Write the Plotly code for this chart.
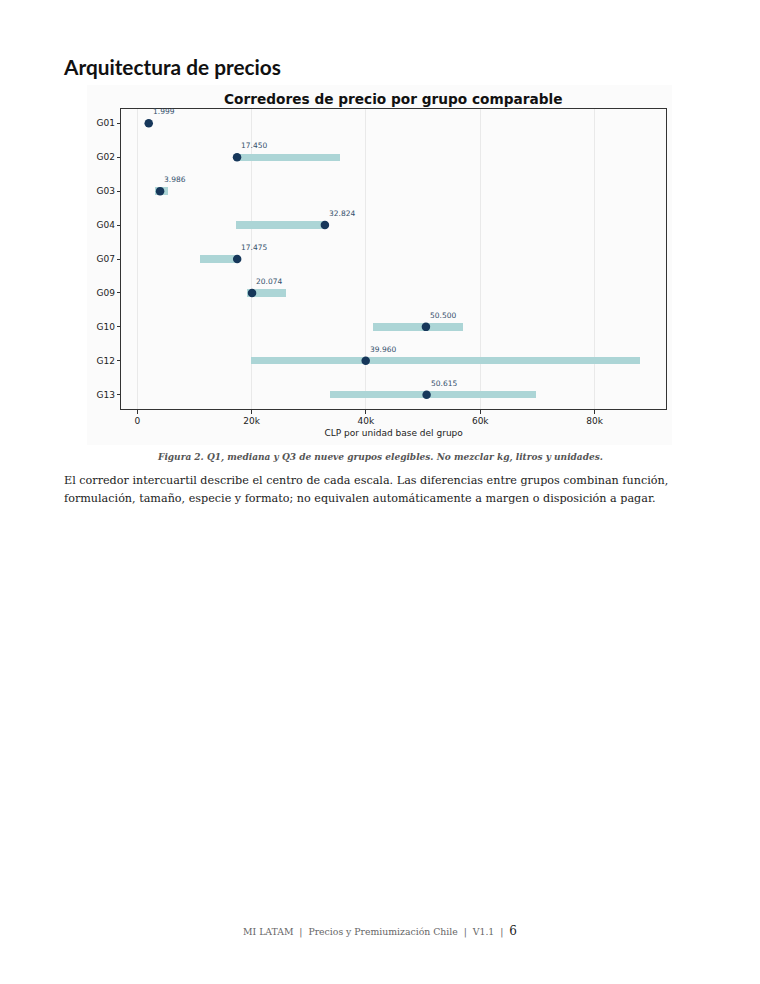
import plotly.graph_objects as go

groups = ["G01", "G02", "G03", "G04", "G07", "G09", "G10", "G12", "G13"]
q1 = [1550, 17450, 3150, 17400, 11100, 19300, 41300, 20000, 33850]
median = [1999, 17450, 3986, 32824, 17475, 20074, 50500, 39960, 50615]
q3 = [2450, 35600, 5450, 32900, 17500, 26000, 57000, 88000, 69840]
median_labels = ["1.999", "17.450", "3.986", "32.824", "17.475", "20.074", "50.500", "39.960", "50.615"]
x_tickvals = [0, 20000, 40000, 60000, 80000]
x_ticktext = ["0", "20k", "40k", "60k", "80k"]

W, H = 760, 984
OFF = 8  # page body margin
def px(x): return (x - OFF) / W
def py(y): return 1 - (y - OFF) / H

BAR = "#acd5d6"
DOT = "#16375a"
CHART_FONT = "DejaVu Sans"
SERIF = "DejaVu Serif"

fig = go.Figure()
fig.add_trace(go.Bar(
    y=groups, x=[b - a for a, b in zip(q1, q3)], base=q1, orientation="h",
    width=0.215, marker=dict(color=BAR, line=dict(width=0)), hoverinfo="skip",
    showlegend=False,
))
fig.add_trace(go.Scatter(
    y=groups, x=median, mode="markers",
    marker=dict(color=DOT, size=8.5, line=dict(width=0)), showlegend=False,
))

for g, m, lab in zip(groups, median, median_labels):
    fig.add_annotation(x=m, y=g, xref="x", yref="y", text=lab, showarrow=False,
                       xanchor="left", yanchor="middle", xshift=2, yshift=11.5,
                       font=dict(family=CHART_FONT, size=7.5, color="#34506c"))

# figure background panel
fig.add_shape(type="rect", xref="paper", yref="paper", x0=px(87), x1=px(672),
              y0=py(445), y1=py(85), fillcolor="#fbfbfb", line=dict(width=0), layer="below")

# page texts
fig.add_annotation(xref="paper", yref="paper", x=px(61), y=py(66), text="<b>Arquitectura de precios</b>",
                   showarrow=False, xanchor="left", yanchor="middle",
                   font=dict(family="Lato", size=20.8, color="#111111"))
fig.add_annotation(xref="paper", yref="paper", x=px(393.5), y=py(99),
                   text="<b>Corredores de precio por grupo comparable</b>",
                   showarrow=False, xanchor="center", yanchor="middle",
                   font=dict(family=CHART_FONT, size=13.7, color="#111111"))
fig.add_annotation(xref="paper", yref="paper", x=px(380), y=py(457),
                   text="<i><b>Figura 2. Q1, mediana y Q3 de nueve grupos elegibles. No mezclar kg, litros y unidades.</b></i>",
                   showarrow=False, xanchor="center", yanchor="middle",
                   font=dict(family=SERIF, size=9, color="#555555"))
fig.add_annotation(xref="paper", yref="paper", x=px(62), y=py(480),
                   text="El corredor intercuartil describe el centro de cada escala. Las diferencias entre grupos combinan función,",
                   showarrow=False, xanchor="left", yanchor="middle",
                   font=dict(family=SERIF, size=11.2, color="#222222"))
fig.add_annotation(xref="paper", yref="paper", x=px(62), y=py(498),
                   text="formulación, tamaño, especie y formato; no equivalen automáticamente a margen o disposición a pagar.",
                   showarrow=False, xanchor="left", yanchor="middle",
                   font=dict(family=SERIF, size=11.2, color="#222222"))
fig.add_annotation(xref="paper", yref="paper", x=px(380), y=py(931),
                   text="MI LATAM  |  Precios y Premiumización Chile  |  V1.1  |  <span style='font-size:12px;color:#222'>6</span>",
                   showarrow=False, xanchor="center", yanchor="middle",
                   font=dict(family=SERIF, size=9.3, color="#666666"))

fig.update_layout(
    width=W, height=H, margin=dict(l=0, r=0, t=0, b=0),
    paper_bgcolor="white", plot_bgcolor="#fcfcfc",
    font=dict(family=CHART_FONT, size=9, color="#222222"),
    bargap=0,
    xaxis=dict(domain=[px(121.3), px(666)], range=[-2800, 92500],
               tickvals=x_tickvals, ticktext=x_ticktext,
               showgrid=True, gridcolor="#e9e9e9", gridwidth=0.8, zeroline=False,
               showline=True, linecolor="#333333", linewidth=1, mirror=True,
               ticks="outside", ticklen=3.5, tickcolor="#333333", tickwidth=0.8,
               tickfont=dict(size=9, color="#222222"),
               title=dict(text="CLP por unidad base del grupo", font=dict(size=9, color="#222222"), standoff=4)),
    yaxis=dict(domain=[py(409), py(109)], range=[8.42, -0.42],
               categoryorder="array", categoryarray=groups,
               showgrid=False, zeroline=False,
               showline=True, linecolor="#333333", linewidth=1, mirror=True,
               ticks="outside", ticklen=3.5, tickcolor="#333333", tickwidth=0.8,
               tickfont=dict(size=9, color="#222222")),
)

fig.write_html("out.html")
